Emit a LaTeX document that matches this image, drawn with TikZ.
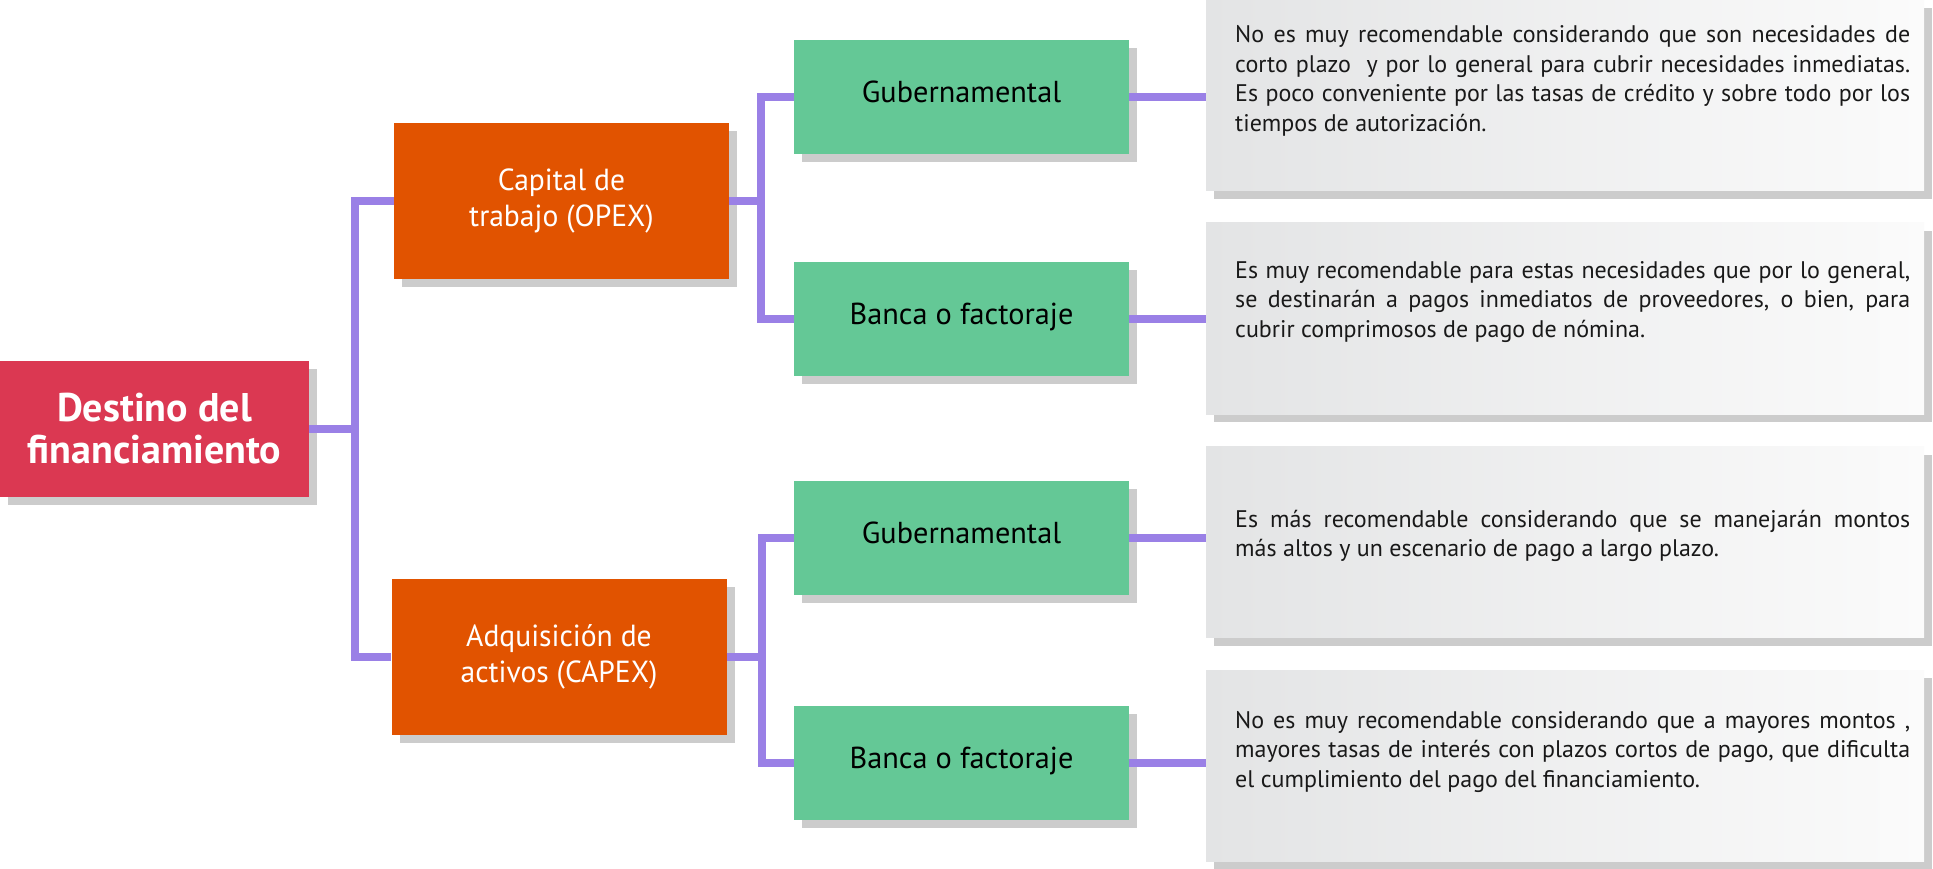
\documentclass[tikz,border=0pt]{standalone}
\usepackage{fontspec}
\setmainfont{PT Sans}
\newfontfamily\estrecha{PT Sans}[FakeStretch=0.97]
\usepackage{tikz}
\usetikzlibrary{shadows}

\definecolor{rojo}{HTML}{DB3852}
\definecolor{naranja}{HTML}{E15300}
\definecolor{verde}{HTML}{64C896}
\definecolor{morado}{HTML}{9A80E6}
\definecolor{sombra}{HTML}{CCCCCC}
\definecolor{grisA}{HTML}{E3E4E5}
\definecolor{grisB}{HTML}{FBFBFB}

\tikzset{
	caja/.style={rectangle, inner sep=0pt, align=center, drop shadow={shadow xshift=8pt, shadow yshift=-8pt, fill=sombra, opacity=1}},
	raiz/.style={caja, fill=rojo, text=white, font=\fontsize{40}{42}\selectfont\bfseries, minimum width=309pt, minimum height=136pt},
	tipo/.style={caja, fill=naranja, text=white, font=\estrecha\fontsize{30.5}{36}\selectfont, minimum width=335pt, minimum height=156pt},
	fuente/.style={caja, fill=verde, text=black, font=\fontsize{30.3}{36}\selectfont, text depth=10pt, minimum width=335pt, minimum height=114pt},
	nota/.style={caja, left color=grisA, right color=grisB, minimum width=718pt, minimum height=191pt},
	texto/.style={anchor=base west, inner sep=0pt, text width=675pt, align=justify, text=black!90, font=\fontsize{24}{29.6}\selectfont},
	linea/.style={draw=morado, line width=8pt}
}

\begin{document}
\begin{tikzpicture}[x=1pt,y=-1pt]
			\useasboundingbox (0,0) rectangle (1933,869);

			\node[raiz] (destino) at (154.5,429) {Destino del\\financiamiento};
			\node[tipo] (opex) at (561.5,201) {Capital de\\trabajo (OPEX)};
			\node[tipo] (capex) at (559,657) {Adquisición de\\activos (CAPEX)};

			\node[fuente] (gub1) at (961.5,97) {Gubernamental};
			\node[fuente] (ban1) at (961.5,318.5) {Banca o factoraje};
			\node[fuente] (gub2) at (961.5,538) {Gubernamental};
			\node[fuente] (ban2) at (961.5,763) {Banca o factoraje};

			\node[nota] (n1) at (1565,95.5) {};
			\node[nota] (n2) at (1565,318.5) {};
			\node[nota] (n3) at (1565,542) {};
			\node[nota] (n4) at (1565,765.5) {};

			\node[texto] (t1) at (1235,42.7) {No es muy recomendable considerando que son necesidades de\linebreak corto plazo\ \ y por lo general para cubrir necesidades inmediatas.\linebreak Es poco conveniente por las tasas de crédito y sobre todo por los\linebreak tiempos de autorización.};
			\node[texto] (t2) at (1235,278) {Es muy recomendable para estas necesidades que por lo general,\linebreak se destinarán a pagos inmediatos de proveedores, o bien, para\linebreak cubrir comprimosos de pago de nómina.};
			\node[texto] (t3) at (1235,527) {Es más recomendable considerando que se manejarán montos\linebreak más altos y un escenario de pago a largo plazo.};
			\node[texto] (t4) at (1235,728) {No es muy recomendable considerando que a mayores montos ,\linebreak mayores tasas de interés con plazos cortos de pago, que dificulta\linebreak el cumplimiento del pago del financiamiento.};

			\draw[linea] (destino.east) -- ++(46,0) |- (opex.west);
			\draw[linea] (destino.east) -- ++(46,0) |- (capex.west);
			\draw[linea] (opex.east) -- ++(32,0) |- (gub1.west);
			\draw[linea] (opex.east) -- ++(32,0) |- (ban1.west);
			\draw[linea] (capex.east) -- ++(35,0) |- (gub2.west);
			\draw[linea] (capex.east) -- ++(35,0) |- (ban2.west);
			\draw[linea] (gub1.east) -- (gub1.east -| n1.west);
			\draw[linea] (ban1.east) -- (ban1.east -| n2.west);
			\draw[linea] (gub2.east) -- (gub2.east -| n3.west);
			\draw[linea] (ban2.east) -- (ban2.east -| n4.west);
		\end{tikzpicture}
\end{document}
